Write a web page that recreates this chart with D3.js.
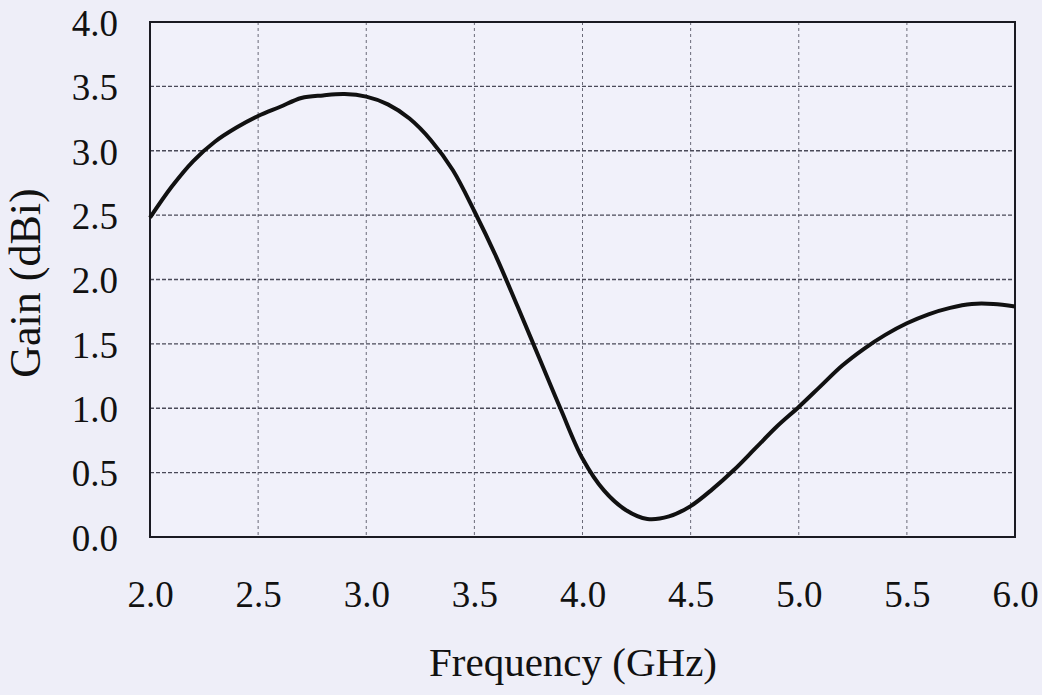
<!DOCTYPE html>
<html><head><meta charset="utf-8">
<script src="https://cdn.jsdelivr.net/npm/d3@7"></script>
<style>
html,body{margin:0;padding:0;background:#eeeef8;}
svg{display:block;}
</style></head>
<body>
<svg id="chart" width="1042" height="695"></svg>
<script>
const freqs = [2.0,2.1,2.2,2.3,2.4,2.5,2.6,2.7,2.8,2.9,3.0,3.1,3.2,3.3,3.4,3.5,3.6,3.7,3.8,3.9,4.0,4.1,4.2,4.3,4.4,4.5,4.6,4.7,4.8,4.9,5.0,5.1,5.2,5.3,5.4,5.5,5.6,5.7,5.8,5.9,6.0];
const gains = [2.48,2.72,2.92,3.07,3.18,3.27,3.34,3.41,3.43,3.44,3.42,3.36,3.25,3.08,2.85,2.53,2.18,1.79,1.39,0.99,0.61,0.36,0.21,0.14,0.16,0.24,0.37,0.52,0.69,0.86,1.01,1.17,1.33,1.46,1.57,1.66,1.73,1.78,1.81,1.81,1.79];
const xTicks = [2.0,2.5,3.0,3.5,4.0,4.5,5.0,5.5,6.0];
const yTicks = [0.0,0.5,1.0,1.5,2.0,2.5,3.0,3.5,4.0];
const xTitle = "Frequency (GHz)";
const yTitle = "Gain (dBi)";

const svg = d3.select("#chart");
const m = {left:150, right:1015, top:22, bottom:537};
const x = d3.scaleLinear().domain([2,6]).range([m.left, m.right]);
const y = d3.scaleLinear().domain([0,4]).range([m.bottom, m.top]);
const font = "'Liberation Serif','Times New Roman',serif";

svg.append("rect").attr("width",1042).attr("height",695).attr("fill","#eeeef8");
svg.append("rect").attr("x",m.left).attr("y",m.top).attr("width",m.right-m.left).attr("height",m.bottom-m.top).attr("fill","#f1f1fa");

// grid
svg.append("g").selectAll("line").data(xTicks.slice(1,-1)).join("line")
  .attr("x1",d=>x(d)).attr("x2",d=>x(d)).attr("y1",m.top).attr("y2",m.bottom)
  .attr("stroke","#6a6a78").attr("stroke-width",1).attr("stroke-dasharray","3,3");
svg.append("g").selectAll("line").data(yTicks.slice(1,-1)).join("line")
  .attr("x1",m.left).attr("x2",m.right).attr("y1",d=>y(d)).attr("y2",d=>y(d))
  .attr("stroke","#4a4a58").attr("stroke-width",1.3).attr("stroke-dasharray","4,2");

// axes via d3
const gx = svg.append("g").attr("transform",`translate(0,${m.bottom})`)
  .call(d3.axisBottom(x).tickValues(xTicks).tickFormat(d3.format(".1f")).tickSize(0).tickPadding(0));
gx.select(".domain").remove();
gx.selectAll("text").attr("font-family",font).attr("font-size",37).attr("fill","#111")
  .attr("y",70).attr("dy",0);
const gy = svg.append("g").attr("transform",`translate(${m.left},0)`)
  .call(d3.axisLeft(y).tickValues(yTicks).tickFormat(d3.format(".1f")).tickSize(0).tickPadding(0));
gy.select(".domain").remove();
gy.selectAll("text").attr("font-family",font).attr("font-size",37).attr("fill","#111")
  .attr("x",-32).attr("dy","0.36em");

// frame
svg.append("rect").attr("x",m.left).attr("y",m.top).attr("width",m.right-m.left).attr("height",m.bottom-m.top)
  .attr("fill","none").attr("stroke","#1a1a22").attr("stroke-width",2);

// curve
const line = d3.line().x((d,i)=>x(freqs[i])).y(d=>y(d)).curve(d3.curveCatmullRom.alpha(0.5));
svg.append("path").datum(gains).attr("d",line).attr("fill","none")
  .attr("stroke","#111").attr("stroke-width",4).attr("stroke-linejoin","round");

// titles
svg.append("text").attr("x",573).attr("y",676).attr("text-anchor","middle")
  .attr("font-family",font).attr("font-size",41).attr("fill","#111").text(xTitle);
svg.append("text").attr("transform","translate(40,283) rotate(-90)").attr("text-anchor","middle")
  .attr("font-family",font).attr("font-size",44).attr("fill","#111").text(yTitle);
</script>
</body></html>
